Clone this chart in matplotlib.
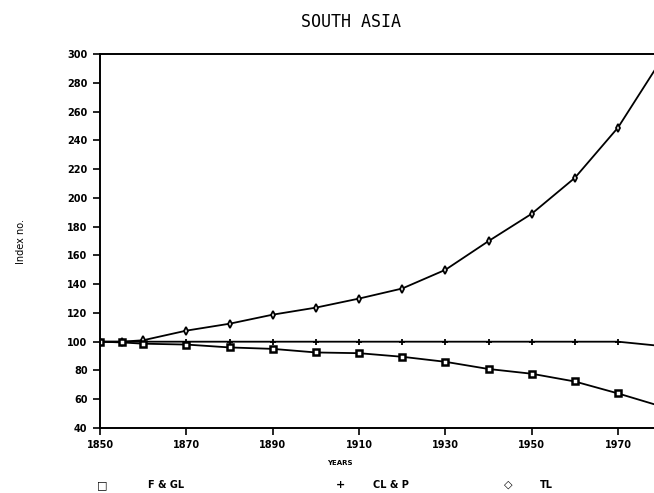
import matplotlib
matplotlib.use('Agg')
import matplotlib.pyplot as plt

# Datos (indice, 1850 = 100)
anios = [1850, 1855, 1860, 1870, 1880, 1890, 1900, 1910, 1920, 1930, 1940, 1950, 1960, 1970, 1980]
f_gl = [100, 99.5, 98.6, 98, 96, 95, 92.5, 92, 89.5, 86, 81, 77.7, 72.3, 64, 55]
cl_p = [100, 100, 101, 107.7, 112.5, 118.8, 123.7, 130, 137, 150, 170, 189, 214, 249, 296]
tl = [100, 100, 100, 100, 100, 100, 100, 100, 100, 100, 100, 100, 100, 100, 97]

xticks = [1850, 1870, 1890, 1910, 1930, 1950, 1970]
yticks = list(range(40, 301, 20))

fig = plt.figure(figsize=(6.54, 4.93), dpi=100)
ax = fig.add_axes([0.153, 0.132, 0.858, 0.758])

ax.plot(anios, tl, color='black', lw=1.3, marker='+', ms=5, mew=1.3)
ax.plot(anios, cl_p, color='black', lw=1.3, marker='d', ms=4, mfc='white', mew=1.3)
ax.plot(anios, f_gl, color='black', lw=1.3, marker='s', ms=5, mfc='white', mew=1.8)

ax.set_xlim(1850, 1980)
ax.set_ylim(40, 300)
ax.set_xticks(xticks)
ax.set_yticks(yticks)
ax.tick_params(direction='out', length=5, width=1.2, labelsize=7, pad=4)
for lab in ax.get_xticklabels() + ax.get_yticklabels():
    lab.set_fontweight('bold')
for s in ['left', 'bottom', 'top']:
    ax.spines[s].set_linewidth(1.4)
ax.spines['right'].set_visible(False)

fig.text(0.537, 0.955, 'SOUTH ASIA', family='DejaVu Sans Mono', fontsize=12, ha='center', va='center')
fig.text(0.032, 0.51, 'Index no.', rotation=90, fontsize=7, ha='center', va='center')
fig.text(0.52, 0.06, 'YEARS', fontsize=5, fontweight='bold', ha='center', va='center')

# leyenda manual como en el original
ley = [(0.157, '\u25a1', 0.226, 'F & GL'), (0.52, '+', 0.57, 'CL & P'), (0.777, '\u25c7', 0.826, 'TL')]
for xm, m, xt, t in ley:
    fig.text(xm, 0.016, m, fontsize=8, ha='center', va='center', fontweight='bold')
    fig.text(xt, 0.016, t, fontsize=7, ha='left', va='center', fontweight='bold')

fig.savefig('out.png', dpi=100)
